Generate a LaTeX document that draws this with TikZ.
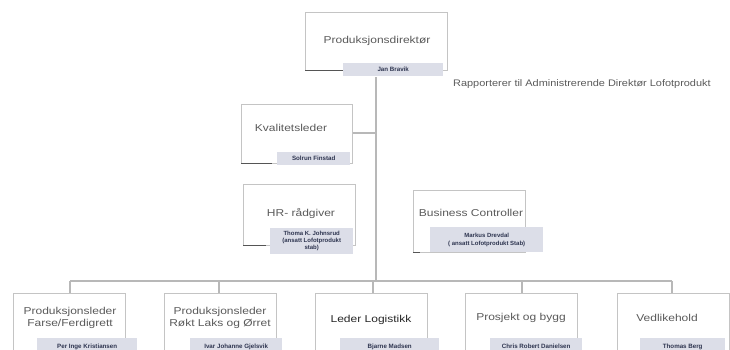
\documentclass[tikz,border=0pt]{standalone}
\usepackage{fontspec}
\setmainfont{Liberation Sans}
\newfontfamily\widefont[FakeStretch=1.2]{Liberation Sans}
\newfontfamily\rapfont[FakeStretch=1.15]{Liberation Sans}
\definecolor{boxline}{HTML}{C4C4C4}
\definecolor{darkline}{HTML}{555555}
\definecolor{titletext}{HTML}{5A5A5A}
\definecolor{bandfill}{HTML}{DCDEE8}
\definecolor{nametext}{HTML}{2E3550}
\definecolor{conn}{HTML}{B8B8B8}
\begin{document}
\begin{tikzpicture}[x=1pt,y=-1pt,
  rolebox/.style={draw=boxline, line width=0.8pt, fill=white, inner sep=0pt, anchor=north west},
  roletext/.style={text=titletext, font=\widefont\fontsize{10}{12.5}\selectfont, align=center, inner sep=0pt},
  band/.style={fill=bandfill, inner sep=0pt, anchor=north west, text=nametext,
     font=\bfseries\fontsize{6.2}{7}\selectfont, align=center},
  conline/.style={draw=conn, line width=1.3pt},
  shadowline/.style={draw=darkline, line width=0.9pt}]
\useasboundingbox (0,0) rectangle (730,349);
\clip (0,0) rectangle (730,349);
\fill[white] (0,0) rectangle (730,349);

% connectors
\coordinate (trunktop) at (376,77);
\coordinate (trunkbot) at (376,281);
\coordinate (busL) at (70,281);
\coordinate (busR) at (672,281);
\draw[conline] (trunktop) -- (trunkbot);
\draw[conline] (busL) -- (busR);
\coordinate (kvc) at (376,133);

% top box
\node[rolebox, minimum width=142pt, minimum height=58pt] (dir) at (305,12) {};
\draw[shadowline] (305,70) -- (343,70);
\node[roletext] (dirt) at (377,41) {Produksjonsdirektør};
\node[band, minimum width=100pt, minimum height=13pt] (dirn) at (343,63) {Jan Bravik};

\node[text=titletext, font=\rapfont\fontsize{9.5}{11}\selectfont, anchor=west, inner sep=0pt] (rap) at (453,84) {Rapporterer til Administrerende Direktør Lofotprodukt};

% Kvalitetsleder
\node[rolebox, minimum width=111pt, minimum height=59pt] (kv) at (241,104) {};
\draw[conline] (kv.east |- kvc) -- (kvc);
\draw[shadowline] (241,163) -- (272,163);
\node[roletext] (kvt) at (291,128) {Kvalitetsleder};
\node[band, minimum width=73pt, minimum height=13pt] (kvn) at (277,152) {Solrun Finstad};

% HR
\node[rolebox, minimum width=112pt, minimum height=61pt] (hr) at (243,184) {};
\draw[shadowline] (243,245) -- (266,245);
\node[roletext] (hrt) at (301,213) {HR- rådgiver};
\node[band, minimum width=83pt, minimum height=26pt, font=\bfseries\fontsize{6}{7.2}\selectfont] (hrn) at (270,228) {Thoma K. Johnsrud\\(ansatt Lofotprodukt\\stab)};

% Business Controller
\node[rolebox, minimum width=112pt, minimum height=62pt] (bc) at (413,190) {};
\draw[shadowline] (413,252) -- (420,252);
\node[roletext] (bct) at (471,213) {Business Controller};
\node[band, minimum width=113pt, minimum height=25pt, font=\bfseries\fontsize{6}{8}\selectfont] (bcn) at (430,227) {Markus Drevdal\\( ansatt Lofotprodukt Stab)};

% bottom row
\foreach \name/\bx/\dx/\ttl/\tx/\bandx/\bandw/\who in {
  b1/13/70/{Produksjonsleder\\Farse/Ferdigrett}/70/37/100/{Per Inge Kristiansen},
  b2/164/219/{Produksjonsleder\\Røkt Laks og Ørret}/220/190/92/{Ivar Johanne Gjelsvik},
  b3/315/373/{}/371/340/99/{Bjarne Madsen},
  b4/465/522/{Prosjekt og bygg}/521/490/92/{Chris Robert Danielsen},
  b5/617/672/{Vedlikehold}/667/640/85/{Thomas Berg}} {
  \node[rolebox, minimum width=112pt, minimum height=70pt] (\name) at (\bx,293) {};
  \coordinate (\name top) at (\dx,293);
  \draw[conline] (\dx,281) -- (\name top);
  \node[roletext] (\name t) at (\tx,318) {\ttl};
  \node[band, minimum width=\bandw pt, minimum height=14pt, text depth=0pt] (\name n) at (\bandx,338) {\raisebox{-3pt}{\who}};
}
\node[text=black!85, font=\widefont\fontsize{10}{12}\selectfont, inner sep=0pt] (b3t2) at (371,320) {Leder Logistikk};
\end{tikzpicture}
\end{document}
